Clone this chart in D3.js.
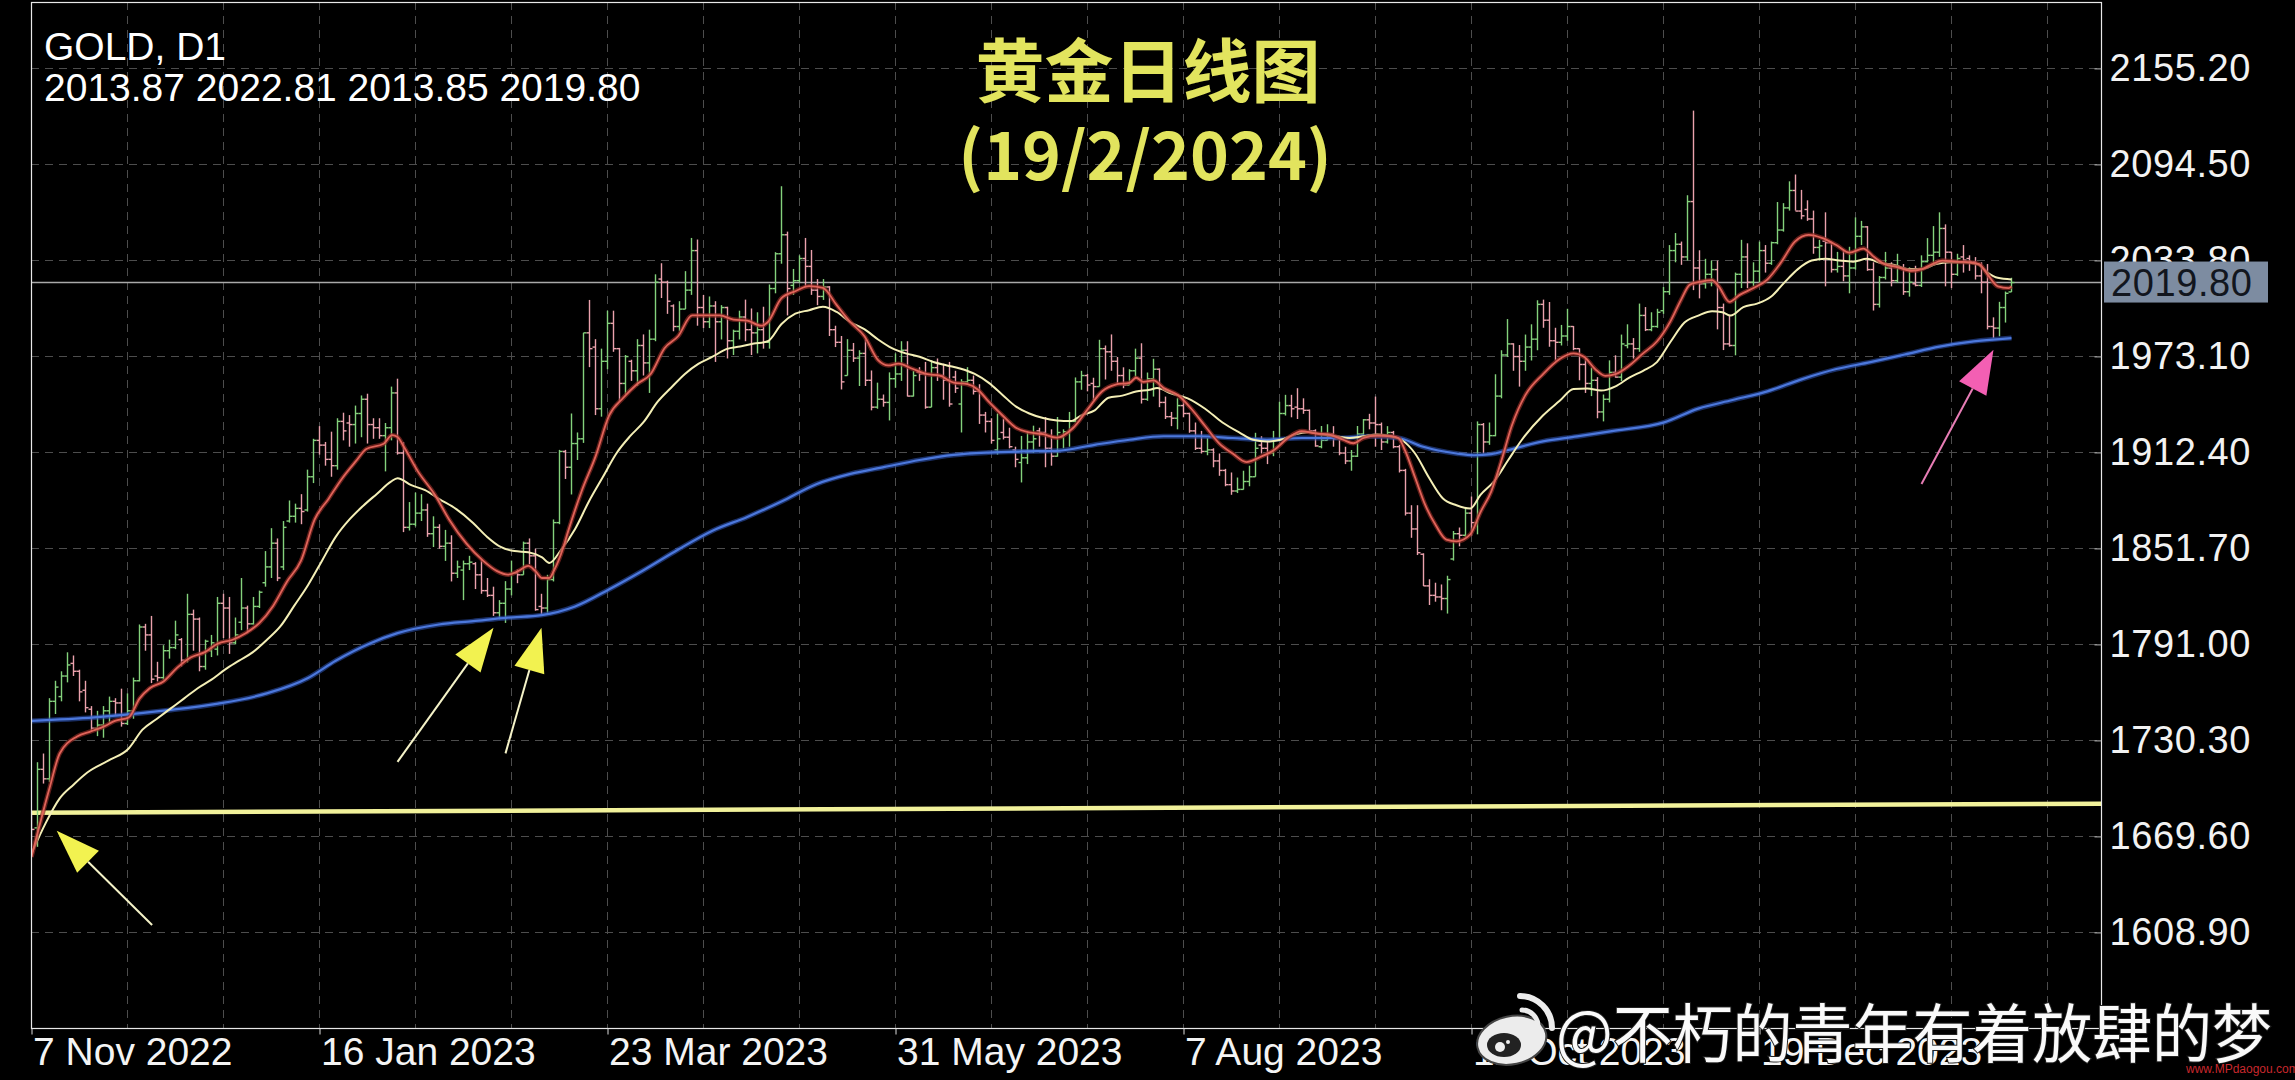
<!DOCTYPE html>
<html>
<head>
<meta charset="utf-8">
<script src="https://cdn.jsdelivr.net/npm/d3@7"></script>
<style>
  body { margin: 0; background: #000; }
  svg { display: block; }
</style>
</head>
<body>
<div id="chart"></div>
<script>
// ---- data (bar index 0 = 7 Nov 2022, one bar per trading day) ----
const opens = [
  1680,1675,1712,1706,1755,1758,1771,1779,1774,1762,
  1750,1738,1740,1749,1755,1754,1741,1749,1768,1802,
  1797,1771,1770,1787,1789,1794,1781,1810,1807,1777,
  1787,1788,1817,1814,1792,1805,1814,1804,1815,1830,
  1840,1855,1840,1869,1872,1877,1876,1897,1920,1917,
  1908,1904,1932,1931,1930,1937,1946,1930,1928,1923,
  1928,1950,1912,1865,1867,1874,1876,1861,1865,1853,
  1855,1836,1838,1842,1842,1835,1825,1822,1811,1817,
  1826,1836,1835,1855,1847,1815,1814,1832,1868,1913,
  1903,1918,1921,1988,1979,1940,1970,1994,1978,1956,
  1970,1964,1980,1969,1984,2022,2020,2005,1992,2003,
  2015,2040,2004,1995,2005,1995,2004,1983,1989,1998,
  1990,1988,1990,1982,2016,2038,2050,2018,2021,2035,
  2030,2015,2011,2017,1990,1982,1961,1977,1972,1975,
  1958,1941,1946,1944,1959,1962,1977,1948,1963,1962,
  1941,1966,1961,1958,1960,1943,1957,1958,1951,1936,
  1932,1914,1925,1922,1914,1906,1909,1919,1926,1925,
  1915,1910,1922,1925,1932,1957,1961,1956,1954,1978,
  1976,1970,1961,1955,1964,1972,1946,1959,1965,1944,
  1935,1934,1942,1937,1926,1915,1913,1914,1907,1901,
  1892,1888,1889,1894,1897,1917,1915,1912,1920,1937,
  1942,1941,1940,1939,1926,1916,1920,1924,1921,1912,
  1907,1910,1924,1933,1931,1930,1919,1925,1916,1901,
  1874,1864,1848,1828,1822,1821,1820,1845,1861,1860,
  1874,1868,1930,1919,1923,1948,1974,1981,1973,1970,
  1979,1984,2006,1996,1983,1982,1986,1992,1978,1968,
  1956,1958,1938,1946,1963,1960,1980,1981,1978,1999,
  1990,1992,2002,2014,2040,2044,2036,2071,2029,2019,
  2025,2028,2004,1981,1980,2025,2036,2020,2027,2040,
  2032,2045,2053,2067,2078,2065,2066,2060,2042,2046,
  2045,2028,2030,2024,2029,2049,2055,2028,2006,2023,
  2029,2021,2029,2014,2019,2018,2033,2037,2039,2054,
  2039,2025,2036,2035,2033,2024,2020,1992,1991,2004,
  2013.87
];
const highs = [
  1684,1716.5,1722,1757,1768,1774,1786,1784,1775,1768,
  1752,1749,1752,1758,1757,1763,1760,1770,1803.6,1804,
  1809,1780,1790.5,1794,1806,1795,1823,1813,1808,1794,
  1797,1821,1823,1821,1808,1833,1815.5,1821,1825,1850,
  1864.5,1858,1869,1882,1880,1886,1901.5,1921,1929,1919,
  1925.5,1934,1937.5,1936,1942,1948.4,1949.5,1934,1934,1931,
  1954,1959,1919,1881,1887,1886,1880,1872,1867,1863.4,
  1860,1844,1844,1847,1843,1845,1833,1827.5,1819,1831,
  1844,1838.4,1856,1858,1851.5,1823,1835,1870,1914,1914,
  1937,1925,1988,2008.8,1984,1978,2002,2002,1978.5,1974,
  1971,1984,1987,1990,2025,2032,2021,2006,2008,2027,
  2048,2047,2012,2011,2008,2005.5,2004.5,1990,2002,2009,
  2003.4,2001,2004.5,2018.6,2039,2080.7,2052,2028.4,2037,2048,
  2040.4,2022,2022,2017.5,1992.5,1986,1984,1981.6,1977,1983.8,
  1964.2,1956.5,1949,1963,1975,1982.7,1982.7,1964,1966.3,1969.6,
  1970.7,1971.8,1968.5,1969.6,1964,1958.7,1966.3,1961,1955.5,1938,
  1934,1937,1933.7,1928,1916,1922.8,1926,1929.3,1928,1934.8,
  1927,1934.8,1927,1938,1959.8,1964,1962,1959.6,1983.6,1980,
  1987,1972.7,1966.2,1965,1978,1981.4,1962.9,1971.6,1965.5,1947.7,
  1938,1946.6,1946.6,1937.5,1931.3,1926,1921.5,1915,1911.7,1902,
  1899.7,1896.5,1900.8,1904,1924.8,1922.6,1920.4,1926,1944.4,1948.8,
  1948.8,1953,1946.6,1939.5,1927,1929.1,1930.2,1929,1922.6,1916,
  1913.9,1929.1,1933.5,1936.8,1947.7,1931.3,1929,1926,1917.2,1902,
  1879,1879,1848.6,1832.2,1830,1828.9,1834.4,1862.7,1864.9,1876.9,
  1884.5,1932,1931,1931.3,1961.8,1977,1996.7,1981.4,1980.3,1986.9,
  1993.4,2008.6,2009,2007.5,1991.2,1993,2003.2,1992.3,1978.2,1972,
  1966,1960,1949,1970.6,1973.8,1986.9,1993.4,1984.7,2006.5,2004.3,
  2001,2003.2,2017,2043.5,2051.1,2045.7,2075,2128.5,2040.2,2034.8,
  2033.7,2033.7,2006.5,1998.9,2026.1,2046.8,2044.6,2032.6,2045.7,2043.5,
  2045.7,2070.7,2070,2083.8,2088.1,2078.4,2071.8,2065.3,2046.8,2064.2,
  2045.7,2039.2,2040.2,2042.4,2061,2058.8,2055.5,2032.6,2023.9,2039.2,
  2032.6,2038,2031.5,2029.4,2030.4,2037,2047.9,2055.5,2064.2,2056.6,
  2039.2,2038,2043.5,2037,2035.9,2032.6,2031.5,1997.8,2007.6,2014.1,
  2022.81
];
const lows = [
  1664,1663,1703,1704,1747,1755,1767,1771,1755,1748,
  1736,1733,1732,1741,1746,1739,1740,1744,1767.6,1787,
  1766.5,1767.6,1768.7,1782,1788,1777,1779.6,1787,1774,1775,
  1783,1784,1795,1785,1791,1800,1798,1803.6,1814,1827.5,
  1833,1831,1838,1868,1868,1867,1875,1893,1911,1904,
  1897,1901.5,1920,1916,1918,1922,1918,1921,1921,1900.4,
  1920,1911,1862,1863,1865.6,1869,1859,1852.6,1851.5,1843.8,
  1830.8,1833,1819,1838,1826,1823,1821,1809,1806.8,1804.6,
  1822,1829.7,1835,1841.7,1812.3,1809,1811,1830.8,1867,1895.6,
  1885.8,1907.6,1918.4,1966.3,1936,1935,1965,1976,1944.6,1949,
  1957.6,1954.4,1961,1950,1982.7,2010,2000,1989,1989,2003,
  2012,1992.5,1991,1991,1969.6,1983.8,1971.8,1974,1983.8,1982.7,
  1974,1975,1978,1978,2013,2031.7,1999,2012,2019.7,2017.5,
  2012,2005.5,2008.8,1986,1979,1952.2,1961,1969.6,1954.4,1954.4,
  1939,1940,1941.3,1932.6,1953.3,1957.6,1947.8,1947.8,1957.6,1940,
  1941,1957.6,1945.7,1941.3,1950,1925,1955.5,1949,1930.4,1925,
  1918,1911,1920.6,1915,1903,1893.4,1905,1912,1916,1903,
  1904,1909.7,1915,1916,1931.5,1952,1951,1945.5,1954,1958.5,
  1964,1955.3,1953,1955,1959.6,1943.3,1945,1947.7,1941,1933.5,
  1929,1927,1934.6,1924.8,1913.9,1911.7,1910.6,1903,1897.6,1891,
  1885.6,1886.7,1888.9,1891,1897,1911.7,1905,1910,1920,1935.7,
  1934.6,1933.5,1936.8,1925.9,1916,1915,1920,1916,1910.6,1905,
  1900.8,1909.5,1921.5,1927,1916,1913.9,1918,1915,1899.7,1872.5,
  1858.4,1847.5,1827.9,1815.9,1818,1812.6,1810.5,1844,1853,1859,
  1859.5,1860.6,1911.7,1917.2,1922.6,1946.6,1972.7,1964,1954,1964,
  1970.5,1977,1991.2,1979.2,1970.5,1980,1983,1977,1958,1950,
  1948,1934,1932,1944,1959.7,1957.5,1978.2,1971.7,1976,1989.1,
  1989,1991.2,2000,2012,2032.6,2031,2033.7,2015,2009.8,2016,
  2017.4,1990.2,1977.1,1979.3,1973.8,2016.3,2016.3,2017.4,2019.6,2026.1,
  2031,2044,2052,2065.3,2065.3,2059.8,2058.8,2038,2033.7,2017.4,
  2026.1,2026.1,2020.6,2013,2028,2043.5,2027.2,2002.1,2004,2021.7,
  2017.4,2019.6,2012,2010.9,2017.4,2017,2032.6,2030.4,2036,2017.4,
  2016.3,2024,2026.1,2027.2,2021.7,2013,1990.2,1984.7,1985.8,1994.5,
  2013.85
];
const closes = [
  1674,1712,1706,1755,1764,1771,1778,1774,1761,1751,
  1738,1740,1749,1755,1754,1741,1749,1768,1802,1797,
  1769,1770,1787,1789,1797,1781,1810,1807,1777,1793,
  1792,1817,1814,1792,1797,1814,1804,1815,1824,1840,
  1855,1833,1865,1872,1877,1875,1897,1920,1917,1908,
  1904,1932,1926,1930,1937,1946,1930,1928,1923,1928,
  1950,1912,1865,1867,1874,1876,1861,1865,1853,1855,
  1836,1840,1842,1843,1835,1825,1822,1811,1817,1826,
  1836,1835,1855,1847,1813,1814,1832,1868,1913,1903,
  1918,1921,1988,1978,1940,1970,1994,1978,1956,1973,
  1964,1980,1969,1984,2020,2020,2008,1992,2003,2015,
  2040,2004,1995,2005,1995,2004,1983,1989,1998,1990,
  1988,1990,1982,2016,2038,2050,2016,2021,2035,2030,
  2015,2011,2017,1990,1982,1957,1977,1972,1975,1958,
  1941,1946,1944,1959,1962,1977,1948,1961,1962,1941,
  1966,1961,1958,1943,1953,1957,1958,1951,1936,1932,
  1920,1921,1922,1916,1908,1909,1919,1921,1925,1915,
  1910,1925,1925.5,1932,1957,1961,1955,1954,1978,1976,
  1970,1961,1955,1964,1972,1946,1959,1965,1944,1935,
  1934,1942,1937,1926,1915,1913,1914,1907,1901,1892,
  1888,1889,1894,1897,1915,1915,1912,1920,1937,1942,
  1940,1940,1939,1926,1916.5,1920,1924,1921,1912,1907,
  1910,1924,1933,1931,1930,1919,1925,1916,1901,1874,
  1864,1849,1828,1822,1821,1820,1832,1861,1860,1874,
  1868,1930,1919,1923,1948,1974,1981,1973,1970,1979,
  1984,2006,1996,1983,1982,1986,1992,1978,1968,1956,
  1958,1938,1946,1963,1960,1981,1981,1978,1999,1990,
  1992,2001,2014,2040,2044,2036,2071,2029,2019,2025,
  2028,2004,1981,1980,2025,2036,2020,2027,2040,2032,
  2045,2053,2067,2078,2065,2062,2060,2042,2043,2045,
  2028,2030,2024,2029,2049,2055,2028,2006,2023,2029,
  2021,2029,2014,2020,2018,2033,2037,2039,2054,2039,
  2025,2035,2034,2033,2024,2020,1992,1991,2004,2013,
  2019.80
];

// moving averages, [bar index, price]
const maFast = [[0,1656.6],[3,1700],[4.7,1722],[7.6,1732.8],[9.9,1736],[12.2,1739.3],[13.9,1742.6],[16.2,1744.8],[18,1756.7],[19.7,1763.3],[22,1767.6],[24.3,1776.3],[26.6,1782.9],[28.9,1786.1],[31.1,1791.6],[33.4,1793.8],[35.7,1798.1],[38,1804.6],[40.3,1815.5],[42.6,1830.8],[44.9,1843.8],[47.2,1870],[49.5,1883],[51.8,1896.1],[54.1,1907],[55.8,1914.6],[58.7,1917.9],[60.1,1923.3],[61,1922.2],[62.1,1915.7],[64.4,1900.4],[67.3,1885.2],[69.6,1870],[72.5,1854.7],[75.3,1843.8],[77.6,1837.3],[79.4,1835.1],[81.1,1837.3],[82.8,1840.6],[84,1837.3],[85.1,1833],[86.3,1833],[87.1,1837.9],[88.6,1852],[89.4,1862],[91.7,1888],[94,1909.7],[96.3,1935.9],[98.6,1946.8],[100.9,1955.5],[103.2,1962],[105.5,1978.3],[107.8,1986],[110.1,1999],[112.4,1999],[114.7,1999],[117,1996.4],[119.3,1995.7],[121.6,1992.5],[122.7,1994.7],[125,2009.9],[127.3,2014.3],[129.6,2017.5],[131.9,2016.4],[134.2,2005.5],[136.5,1994.7],[138.8,1986],[141.1,1970.7],[142.8,1967.4],[144.5,1968.5],[146.8,1965.3],[149.1,1962],[151.4,1960.9],[153.7,1956.5],[156,1955.5],[157.7,1952.2],[159.5,1944.6],[161.8,1935.9],[164,1928.2],[166.3,1925],[168.6,1923.9],[170.9,1921.7],[173.5,1927.5],[176.1,1940],[178.4,1950.9],[180.7,1955.3],[183,1956.4],[184.1,1959.6],[185.3,1957],[187,1957.9],[188.7,1953.1],[191,1948.8],[193.3,1940],[195.6,1929.1],[197.9,1918.3],[200.2,1911.7],[202.5,1906.3],[204.8,1909.5],[207.1,1913.9],[209.4,1921.5],[211.7,1925.9],[214,1924.4],[216.3,1923.7],[218.6,1920.4],[220.3,1918.2],[222,1921.5],[224.3,1923],[226.6,1922.6],[227.8,1921.5],[228.9,1913.9],[230.6,1896.5],[232.3,1879],[234.1,1866],[235.8,1857.3],[237.5,1856.2],[239.8,1860.6],[241.5,1874.7],[243.3,1887.8],[245,1907.4],[246.7,1929.1],[249,1948.8],[251.9,1961.8],[254.7,1971.5],[257,1975],[258.8,1972.7],[260.6,1965.1],[262.3,1960.8],[264,1961.9],[266.3,1967.3],[268.6,1975],[270.9,1982.5],[273.2,1995.6],[274.9,2008.7],[276.4,2018.5],[277.8,2020],[280.1,2021.3],[281.2,2017.4],[283,2007.6],[284.7,2012],[287,2016.3],[289.3,2021.7],[291.6,2032.6],[293.9,2045.7],[296.2,2050],[298.5,2047.9],[300.8,2043.5],[303,2038.7],[305.3,2041.3],[307.1,2035.9],[308.8,2031.5],[311.1,2029.4],[313.4,2027.2],[315.1,2028.3],[316.8,2031.5],[318.5,2033.7],[320.8,2033],[323.1,2032.6],[324.6,2031.5],[326,2025],[327.7,2017.4],[329.5,2016.3],[330,2017.4]];
const maSlow = [[0,1658.8],[2.4,1678.3],[4.7,1693.6],[7,1702.3],[9.3,1710],[12.8,1717.5],[16.2,1725.2],[18.5,1737.1],[20.8,1743.7],[23.1,1750.2],[25.4,1756.7],[27.7,1763.3],[30,1768.7],[32.3,1775.2],[34.6,1780.7],[36.9,1786.1],[39.2,1793.8],[41.5,1802.5],[43.8,1815.5],[46.1,1828.6],[48.4,1843.8],[50.7,1859],[53,1870],[55.3,1878.7],[57.6,1886.3],[59.9,1893.9],[61,1896.1],[63.3,1891.7],[65.6,1888.5],[67.9,1883],[70.8,1876.5],[73.6,1867.8],[75.9,1859.1],[78.2,1852.6],[80.5,1850],[82.8,1849.3],[85.1,1846],[86.3,1842.5],[88.3,1851],[90.6,1864],[92.9,1881.4],[95.2,1896.7],[97.5,1911.9],[99.8,1922.8],[102,1931.5],[104.4,1944.6],[106.6,1953.3],[108.9,1962],[111.2,1968.5],[113.5,1972.9],[115.8,1977.7],[118.1,1979.4],[120.4,1981.2],[122.7,1982.7],[125,1993.6],[127.3,2000.1],[129.6,2002.3],[131.9,2004.5],[134.2,2001.2],[136.5,1994.7],[138.8,1990.3],[141.1,1983.8],[143.4,1978.3],[145.7,1975],[148,1972.9],[150.3,1969.6],[152.6,1967.4],[154.9,1965.3],[157.2,1962],[159.5,1956.5],[161.8,1948.9],[164.1,1941.3],[166.3,1937],[168.6,1934.1],[170.9,1932.6],[173.2,1932.2],[174.9,1935.7],[177.2,1939],[179.5,1947],[181.8,1948.3],[184.1,1950.9],[186.4,1952],[187.6,1953.1],[189.9,1949.8],[192.7,1946.6],[195.6,1940],[198.5,1931.3],[201.4,1924.8],[203.6,1920.4],[205.9,1919.3],[208.2,1920.4],[210.5,1923.7],[212.8,1925.2],[215.1,1923.7],[217.4,1922.6],[219.7,1921.5],[222,1922.6],[224.3,1923.7],[226.6,1922.6],[228.3,1920.4],[230.6,1911.7],[232.9,1896.5],[235.2,1883.4],[237.5,1879],[239.8,1876.9],[241.5,1885.6],[243.8,1894.3],[246.1,1907.4],[248.4,1920.4],[251.9,1935.7],[254.7,1945],[257,1952.5],[259.3,1952.8],[261.6,1951.5],[264,1954.2],[266.3,1959.7],[268.6,1964],[270.9,1969.5],[273.2,1982.5],[275.5,1994.5],[277.8,1998.9],[280.1,2001.7],[281.8,2001],[283.2,1998.9],[285.3,2004.3],[287.6,2006.5],[289.9,2010.8],[292.1,2019.6],[294.4,2028.3],[296.7,2033.7],[299,2034.8],[301.3,2033.7],[303.6,2033],[305.9,2034.8],[308.2,2032.2],[310.5,2030.9],[312.8,2028.3],[315.1,2028.3],[317.4,2031.5],[319.7,2032.6],[322,2032.6],[324.3,2031.5],[326,2026.1],[327.7,2022.8],[330,2021.8]];
const maLong = [[0,1742.6],[10.5,1744.8],[22,1749.1],[31.1,1753.5],[39.2,1760],[46.1,1769.8],[50.7,1780.7],[56.4,1791.6],[61,1798.1],[67.9,1803.6],[73.6,1805.7],[79.4,1807.9],[85,1809.5],[90.6,1815],[96.3,1825.9],[102,1837.9],[107.8,1851],[113.5,1862.9],[119.3,1871.6],[125,1881.4],[130.8,1892.3],[136.5,1898.8],[142.2,1903.2],[148,1907.6],[153.7,1910.8],[159.5,1912.3],[165.2,1913],[170.9,1913.4],[177.2,1917.2],[183,1920.4],[188.7,1922.6],[194.5,1922.6],[200.2,1921.5],[205.9,1920.4],[211.7,1921.5],[217.4,1921.5],[223.2,1922.6],[227.8,1921.5],[231.8,1916.1],[237.5,1911.7],[240.4,1910.6],[243.3,1911.3],[246.1,1913.9],[251.9,1919.4],[257.6,1922.5],[263.4,1925.9],[272.1,1931.4],[277.8,1940.1],[283.5,1945.5],[289.3,1951],[295,1958.6],[300.8,1965.1],[306.5,1969.5],[312.2,1974.3],[318,1979.3],[323.7,1982.6],[330,1984.7]];

const priceTicks = [2155.20, 2094.50, 2033.80, 1973.10, 1912.40, 1851.70, 1791.00, 1730.30, 1669.60, 1608.90];
const dateLabels = ["7 Nov 2022", "16 Jan 2023", "23 Mar 2023", "31 May 2023", "7 Aug 2023", "12 Oct 2023", "19 Dec 2023"];
const dateLabelBars = [0, 48, 96, 144, 192, 240, 288];
const lastPrice = 2019.80;
const headerLines = ["GOLD, D1", "2013.87 2022.81 2013.85 2019.80"];
const titleLines = ["黄金日线图", "(19/2/2024)"];
const trendLine = [[0, 1684.5], [345, 1690.3]];
const arrowTips = [[4.2, 1673.1], [77, 1801.6], [85, 1801.6], [327, 1977.3]];
const arrowTails = [[20.1, 1613.6], [61, 1716.7], [79, 1722.1], [315, 1892.4]];
const arrowKinds = ["yellow", "yellow", "yellow", "pink"];
const watermark = "@不朽的青年有着放肆的梦";

// ---- layout ----
const W = 2295, H = 1080;
const plot = {left: 31, top: 2, right: 2101, bottom: 1028};
const LATIN = "'Liberation Sans', Arial, sans-serif";
const CJK = "'Noto Sans CJK SC', 'Noto Sans', sans-serif";

const svg = d3.select("#chart").append("svg")
    .attr("width", W).attr("height", H)
    .style("background", "#000");

const x = d3.scaleLinear().domain([0, 345]).range([31.5, 31.5 + 345 * 6]);
const y = d3.scaleLinear().domain([1608.9, 2155.2]).range([932.4, 68.4]);

svg.append("defs").append("clipPath").attr("id", "plotclip")
  .append("rect")
    .attr("x", plot.left).attr("y", plot.top)
    .attr("width", plot.right - plot.left).attr("height", plot.bottom - plot.top);

// grid
const grid = svg.append("g").attr("stroke", "#4d4d4d").attr("stroke-width", 1).attr("stroke-dasharray", "8,6");
grid.selectAll(".vg").data(d3.range(16, 345, 16).filter(i => x(i) < plot.right))
  .join("line")
    .attr("x1", d => x(d)).attr("x2", d => x(d))
    .attr("y1", plot.top).attr("y2", plot.bottom);
grid.selectAll(".hg").data(priceTicks)
  .join("line")
    .attr("x1", plot.left).attr("x2", plot.right)
    .attr("y1", d => Math.round(y(d)) + 0.5).attr("y2", d => Math.round(y(d)) + 0.5);

const body = svg.append("g").attr("clip-path", "url(#plotclip)");

// support trendline
body.append("line")
    .attr("x1", x(trendLine[0][0]) - 2).attr("y1", y(trendLine[0][1]))
    .attr("x2", x(trendLine[1][0])).attr("y2", y(trendLine[1][1]))
    .attr("stroke", "#f1f19a").attr("stroke-width", 4.5);

// current price line
body.append("line")
    .attr("x1", plot.left).attr("x2", plot.right)
    .attr("y1", y(lastPrice)).attr("y2", y(lastPrice))
    .attr("stroke", "#a9a9a9").attr("stroke-width", 1.6);

// OHLC bars
const bars = opens.map((o, i) => ({i, o, h: highs[i], l: lows[i], c: closes[i]}));
const barColor = d => d.c >= d.o ? "#84d27c" : "#eba2ad";
const barG = body.append("g").attr("stroke-width", 1.4);
barG.selectAll(".hl").data(bars).join("line")
    .attr("x1", d => x(d.i)).attr("x2", d => x(d.i))
    .attr("y1", d => y(d.h)).attr("y2", d => y(d.l))
    .attr("stroke", barColor);
barG.selectAll(".op").data(bars).join("line")
    .attr("x1", d => x(d.i) - 3).attr("x2", d => x(d.i))
    .attr("y1", d => y(d.o)).attr("y2", d => y(d.o))
    .attr("stroke", barColor);
barG.selectAll(".cl").data(bars).join("line")
    .attr("x1", d => x(d.i)).attr("x2", d => x(d.i) + 3)
    .attr("y1", d => y(d.c)).attr("y2", d => y(d.c))
    .attr("stroke", barColor);

// moving averages
const maLine = d3.line().x(d => x(d[0])).y(d => y(d[1])).curve(d3.curveMonotoneX);
body.append("path").datum(maLong).attr("d", maLine)
    .attr("fill", "none").attr("stroke", "#2c4fa8").attr("stroke-width", 5).attr("opacity", 0.6);
body.append("path").datum(maLong).attr("d", maLine)
    .attr("fill", "none").attr("stroke", "#4c78dc").attr("stroke-width", 2.2);
body.append("path").datum(maSlow).attr("d", maLine)
    .attr("fill", "none").attr("stroke", "#f4efb6").attr("stroke-width", 2);
body.append("path").datum(maFast).attr("d", maLine)
    .attr("fill", "none").attr("stroke", "#8a2a24").attr("stroke-width", 4.5).attr("opacity", 0.7);
body.append("path").datum(maFast).attr("d", maLine)
    .attr("fill", "none").attr("stroke", "#e0645a").attr("stroke-width", 1.8);

// arrows
const arrowG = svg.append("g");
arrowTips.forEach((tip, k) => {
  const tx = x(tip[0]), ty = y(tip[1]);
  const sx = x(arrowTails[k][0]), sy = y(arrowTails[k][1]);
  const len = Math.hypot(tx - sx, ty - sy);
  const ux = (tx - sx) / len, uy = (ty - sy) / len;
  const bx = tx - ux * 44, by = ty - uy * 44;
  const nx = -uy * 15.5, ny = ux * 15.5;
  const pink = arrowKinds[k] === "pink";
  arrowG.append("line")
      .attr("x1", sx).attr("y1", sy).attr("x2", bx).attr("y2", by)
      .attr("stroke", pink ? "#e77db5" : "#f5f3c8").attr("stroke-width", 2);
  arrowG.append("polygon")
      .attr("points", [[tx, ty], [bx + nx, by + ny], [bx - nx, by - ny]].map(p => p.join(",")).join(" "))
      .attr("fill", pink ? "#f35fb3" : "#f2f250");
});

// frame
svg.append("rect")
    .attr("x", plot.left + 0.5).attr("y", plot.top + 0.5)
    .attr("width", plot.right - plot.left).attr("height", plot.bottom - plot.top)
    .attr("fill", "none").attr("stroke", "#e8e8e8").attr("stroke-width", 1.2);

// price axis
const yAxis = d3.axisRight(y).tickValues(priceTicks).tickFormat(d3.format(".2f"))
    .tickSizeInner(-7).tickSizeOuter(0).tickPadding(8);
svg.append("g").attr("transform", `translate(${plot.right + 0.5},0)`).call(yAxis)
    .call(g => g.select(".domain").remove())
    .call(g => g.selectAll("line").attr("stroke", "#bbb"))
    .call(g => g.selectAll("text").attr("fill", "#f2f2f2")
        .attr("font-family", LATIN).attr("font-size", 38).attr("letter-spacing", 0.6));

// last price tag
const tagY = y(lastPrice);
svg.append("rect")
    .attr("x", plot.right + 3).attr("y", tagY - 21)
    .attr("width", 164).attr("height", 41)
    .attr("fill", "#7d8ca1");
svg.append("text")
    .attr("x", plot.right + 10).attr("y", tagY).attr("dy", "0.35em")
    .attr("fill", "#12161e").attr("font-family", LATIN).attr("font-size", 38).attr("letter-spacing", 0.6)
    .text(d3.format(".2f")(lastPrice));

// time axis
const xAxis = d3.axisBottom(x).tickValues(dateLabelBars).tickFormat((d, i) => dateLabels[i])
    .tickSizeInner(6).tickSizeOuter(0).tickPadding(3);
svg.append("g").attr("transform", `translate(0,${plot.bottom + 0.5})`).call(xAxis)
    .call(g => g.select(".domain").remove())
    .call(g => g.selectAll("line").attr("stroke", "#ddd"))
    .call(g => g.selectAll("text").attr("fill", "#f4f4f4").attr("text-anchor", "start").attr("dx", 1)
        .attr("font-family", LATIN).attr("font-size", 39));

// header
svg.append("g").selectAll("text").data(headerLines).join("text")
    .attr("x", 44).attr("y", (d, i) => 60 + i * 41)
    .attr("fill", "#fff").attr("font-family", LATIN).attr("font-size", 39)
    .text(d => d);

// title
svg.append("g").selectAll("text").data(titleLines).join("text")
    .attr("x", (d, i) => i ? 1145 : 1148).attr("y", (d, i) => i ? 180 : 97)
    .attr("text-anchor", "middle")
    .attr("fill", "#e2e45e").attr("font-family", CJK).attr("font-weight", 700)
    .attr("font-size", (d, i) => i ? 66 : 69)
    .text(d => d);

// watermark: weibo logo + handle
const logo = svg.append("g").attr("transform", "translate(1512,1032)");
logo.append("ellipse").attr("cx", -2).attr("cy", 8).attr("rx", 35).attr("ry", 24)
    .attr("transform", "rotate(-12)").attr("fill", "#ececec").attr("stroke", "#444").attr("stroke-width", 2);
logo.append("ellipse").attr("cx", -8).attr("cy", 13).attr("rx", 17).attr("ry", 12)
    .attr("fill", "#222");
logo.append("circle").attr("cx", -12).attr("cy", 15).attr("r", 5).attr("fill", "#eee");
logo.append("circle").attr("cx", -4).attr("cy", 10).attr("r", 2).attr("fill", "#eee");
logo.append("path").attr("d", "M 8 -36 A 32 32 0 0 1 40 -4")
    .attr("fill", "none").attr("stroke", "#ececec").attr("stroke-width", 6).attr("stroke-linecap", "round");
logo.append("path").attr("d", "M 10 -22 A 16 16 0 0 1 26 -6")
    .attr("fill", "none").attr("stroke", "#ececec").attr("stroke-width", 5).attr("stroke-linecap", "round");

svg.append("text")
    .attr("x", 1556).attr("y", 1057)
    .attr("textLength", 716).attr("lengthAdjust", "spacingAndGlyphs")
    .attr("fill", "#fafafa").attr("stroke", "#222").attr("stroke-width", 2).attr("paint-order", "stroke")
    .attr("font-family", CJK).attr("font-size", 64)
    .text(watermark);

svg.append("text")
    .attr("x", 2186).attr("y", 1073)
    .attr("fill", "#c8282d").attr("font-family", LATIN).attr("font-size", 12)
    .text("www.MPdaogou.com");
</script>
</body>
</html>
